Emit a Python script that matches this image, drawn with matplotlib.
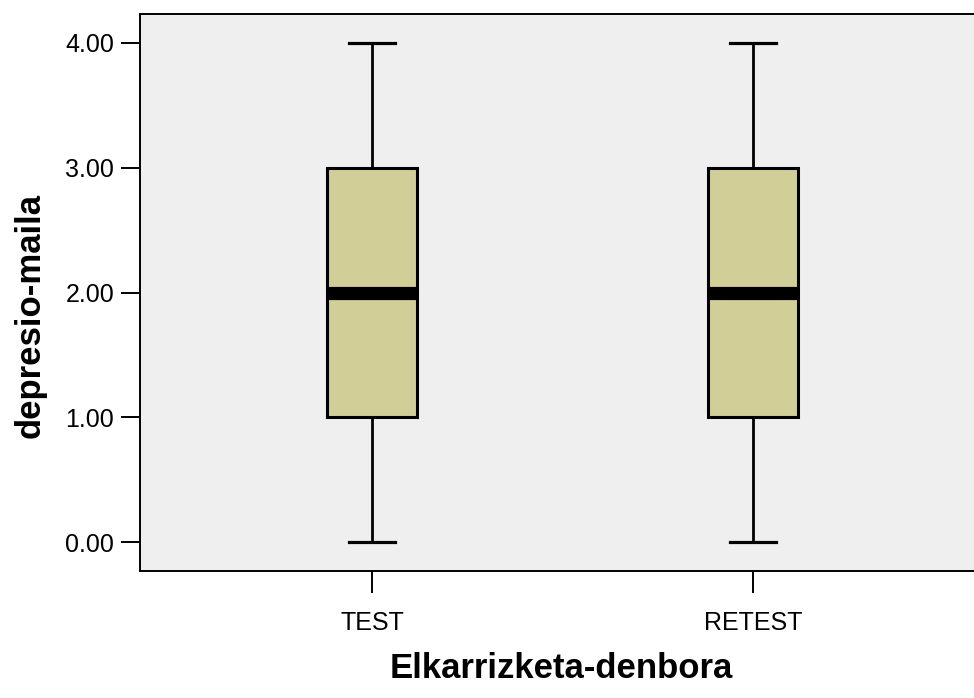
import matplotlib
matplotlib.use("Agg")
import matplotlib.pyplot as plt

# Five-number summaries of depression level per interview time
categories = ["TEST", "RETEST"]
whisker_low = [0.0, 0.0]
q1 = [1.0, 1.0]
median = [2.0, 2.0]
q3 = [3.0, 3.0]
whisker_high = [4.0, 4.0]
y_ticks = [0.0, 1.0, 2.0, 3.0, 4.0]

plt.rcParams["font.family"] = ["Liberation Sans", "DejaVu Sans"]

W, H = 974, 698
fig = plt.figure(figsize=(W / 100, H / 100), dpi=100)
ax = fig.add_axes([140 / W, (H - 571) / H, (982 - 140) / W, (571 - 14) / H])
ax.set_facecolor("#EFEFEF")

stats = []
for i, name in enumerate(categories):
    stats.append(dict(label=name, whislo=whisker_low[i], q1=q1[i], med=median[i],
                      q3=q3[i], whishi=whisker_high[i], fliers=[]))

ax.bxp(stats, positions=range(len(categories)), widths=0.236, patch_artist=True,
       showfliers=False,
       boxprops=dict(facecolor="#D2CE98", edgecolor="black", linewidth=2.2),
       medianprops=dict(color="black", linewidth=9.5, solid_capstyle="butt"),
       whiskerprops=dict(color="black", linewidth=2.0),
       capprops=dict(color="black", linewidth=2.3),
       capwidths=0.123)

ax.set_xlim(-0.609, 1.601)
ax.set_ylim(-0.232, 4.232)
ax.set_yticks(y_ticks)
ax.set_yticklabels([f"{v:.2f}" for v in y_ticks], fontsize=18)
ax.set_xticks(range(len(categories)))
ax.set_xticklabels(categories, fontsize=18)
ax.tick_params(axis="y", length=13.5, width=1.4, pad=5)
ax.tick_params(axis="x", length=16, width=1.4, pad=13)

for side in ("left", "bottom", "top"):
    ax.spines[side].set_linewidth(1.4)
ax.spines["right"].set_visible(False)

fig.text(561 / W, 1 - 668 / H, "Elkarrizketa-denbora", ha="center", va="center",
         fontsize=25, fontweight="bold")
fig.text(30 / W, 1 - 315 / H, "depresio-maila", ha="center", va="center",
         rotation=90, fontsize=25, fontweight="bold")

fig.savefig("out.png", dpi=100, facecolor="white")
